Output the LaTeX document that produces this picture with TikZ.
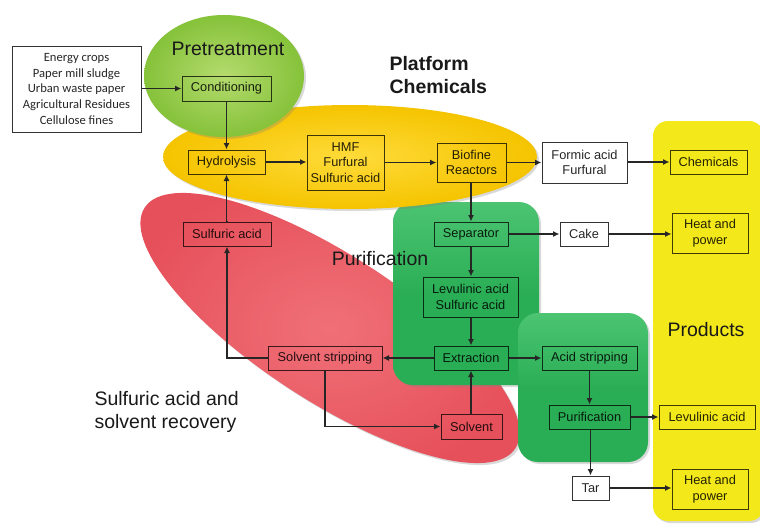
\documentclass[tikz,border=0pt]{standalone}
\usepackage{fontspec}
\setmainfont{Liberation Sans}
\newfontfamily\calfont{Carlito}
\usetikzlibrary{arrows.meta,shadows}
\definecolor{pgreen}{HTML}{86C23A}
\definecolor{pgreenl}{HTML}{B4DB6E}
\definecolor{pyellow}{HTML}{F5C400}
\definecolor{pyellowl}{HTML}{FFDB3A}
\definecolor{pred}{HTML}{E6505A}
\definecolor{predl}{HTML}{F07078}
\definecolor{ggreen}{HTML}{2AAE55}
\definecolor{ggreenl}{HTML}{4CC472}
\definecolor{prodyellow}{HTML}{F3E81A}
\begin{document}
\begin{tikzpicture}[x=1pt,y=-1pt,
  blob/.style={drop shadow={opacity=0.3,shadow xshift=2pt,shadow yshift=-2pt}},
  box/.style={draw=black,draw opacity=0.75,text opacity=0.85,line width=1pt,inner sep=0pt,align=center,
    font=\fontsize{12.8}{15.8}\selectfont},
  wbox/.style={box,fill=white,draw opacity=0.8},
  title/.style={font=\fontsize{19.5}{23}\selectfont,text=black!90},
  arr/.style={line width=1.2pt,draw=black!85,-{Latex[length=6.5pt,width=6pt]}}]
\useasboundingbox (0,0) rectangle (760,525);
% background shapes
\fill[prodyellow,blob,rounded corners=15pt] (653,121) rectangle (764,521);
\shade[blob,inner color=predl,outer color=pred,rotate around={-33:(330,328)}] (330,328) ellipse [x radius=221pt, y radius=73pt];
\shade[blob,rounded corners=20pt,top color=ggreenl,bottom color=ggreen,middle color=ggreen] (393,202) rectangle (539,385);
\shade[blob,rounded corners=20pt,top color=ggreenl,bottom color=ggreen,middle color=ggreen] (518,313) rectangle (648,462);
\shade[blob,inner color=pyellowl,outer color=pyellow] (350,157) ellipse [x radius=187pt, y radius=52pt];
\shade[blob,inner color=pgreenl,outer color=pgreen] (224,76) ellipse [x radius=80pt, y radius=61pt];
% titles
\node[title] (tpre) at (228,49) {Pretreatment};
\node[title,font=\fontsize{19.5}{23}\selectfont\bfseries,align=left,anchor=west] (tplat) at (386,75) {Platform\\Chemicals};
\node[title] (tpur) at (380,259) {Purification};
\node[title] (tprod) at (706,330) {Products};
\node[title,align=left,anchor=west] (tsulf) at (91,412) {Sulfuric acid and\\solvent recovery};
% boxes
\node[wbox,minimum width=129pt,minimum height=86pt,font=\calfont\fontsize{12.6}{15.6}\selectfont] (feed) at (76.5,89)
  {Energy crops\\Paper mill sludge\\Urban waste paper\\Agricultural Residues\\Cellulose fines};
\node[box,minimum width=89pt,minimum height=25pt] (cond) at (226.5,88.5) {Conditioning};
\node[box,minimum width=77pt,minimum height=24pt] (hydro) at (226.5,162) {Hydrolysis};
\node[box,minimum width=77pt,minimum height=55pt] (hmf) at (345.5,162.5) {HMF\\Furfural\\Sulfuric acid};
\node[box,minimum width=69pt,minimum height=39pt] (bio) at (471.5,162.5) {Biofine\\Reactors};
\node[wbox,minimum width=85pt,minimum height=41pt] (formic) at (584.5,162.5) {Formic acid\\Furfural};
\node[box,minimum width=77pt,minimum height=24pt] (chem) at (708.5,162) {Chemicals};
\node[box,minimum width=74pt,minimum height=24pt] (sep) at (471,234) {Separator};
\node[wbox,minimum width=48pt,minimum height=24pt] (cake) at (584,234) {Cake};
\node[box,minimum width=76pt,minimum height=40pt] (hp1) at (710,233) {Heat and\\power};
\node[box,minimum width=88pt,minimum height=24pt] (sulf) at (227,234) {Sulfuric acid};
\node[box,minimum width=95pt,minimum height=40pt] (lev) at (470.5,297) {Levulinic acid\\Sulfuric acid};
\node[box,minimum width=74pt,minimum height=24pt] (ext) at (471,358) {Extraction};
\node[box,minimum width=114pt,minimum height=24pt] (sstrip) at (325,358) {Solvent stripping};
\node[box,minimum width=95pt,minimum height=24pt] (astrip) at (589.5,358) {Acid stripping};
\node[box,minimum width=81pt,minimum height=24pt] (pur) at (589.5,417) {Purification};
\node[box,minimum width=96pt,minimum height=24pt] (lacid) at (707,417) {Levulinic acid};
\node[box,minimum width=61pt,minimum height=25pt] (solv) at (471.5,426.5) {Solvent};
\node[wbox,minimum width=37pt,minimum height=24pt] (tar) at (590.5,488) {Tar};
\node[box,minimum width=76pt,minimum height=40pt] (hp2) at (710,489) {Heat and\\power};
% connectors
\draw[arr] (feed.east |- cond.west) -- (cond.west);
\draw[arr] (cond.south) -- (hydro.north);
\draw[arr] (hydro.east) -- (hydro.east -| hmf.west);
\draw[arr] (hmf.east |- bio.west) -- (bio.west);
\draw[arr] (bio.east) -- (formic.west);
\draw[arr] (formic.east |- chem.west) -- (chem.west);
\draw[arr] (bio.south -| sep.north) -- (sep.north);
\draw[arr] (sep.east) -- (cake.west);
\draw[arr] (cake.east) -- (cake.east -| hp1.west);
\draw[arr] (sep.south) -- (sep.south |- lev.north);
\draw[arr] (lev.south -| ext.north) -- (ext.north);
\draw[arr] (ext.west) -- (sstrip.east);
\draw[arr] (ext.east) -- (astrip.west);
\draw[arr] (astrip.south) -- (pur.north);
\draw[arr] (pur.east) -- (lacid.west);
\draw[arr] (pur.south -| tar.north) -- (tar.north);
\draw[arr] (tar.east) -- (tar.east -| hp2.west);
\draw[arr] (solv.north -| ext.south) -- (ext.south);
\draw[arr] (sstrip.south) |- (solv.west);
\draw[arr] (sstrip.west) -| (sulf.south);
\draw[arr] (sulf.north) -- (sulf.north -| hydro.south) -- (hydro.south);
\end{tikzpicture}
\end{document}
